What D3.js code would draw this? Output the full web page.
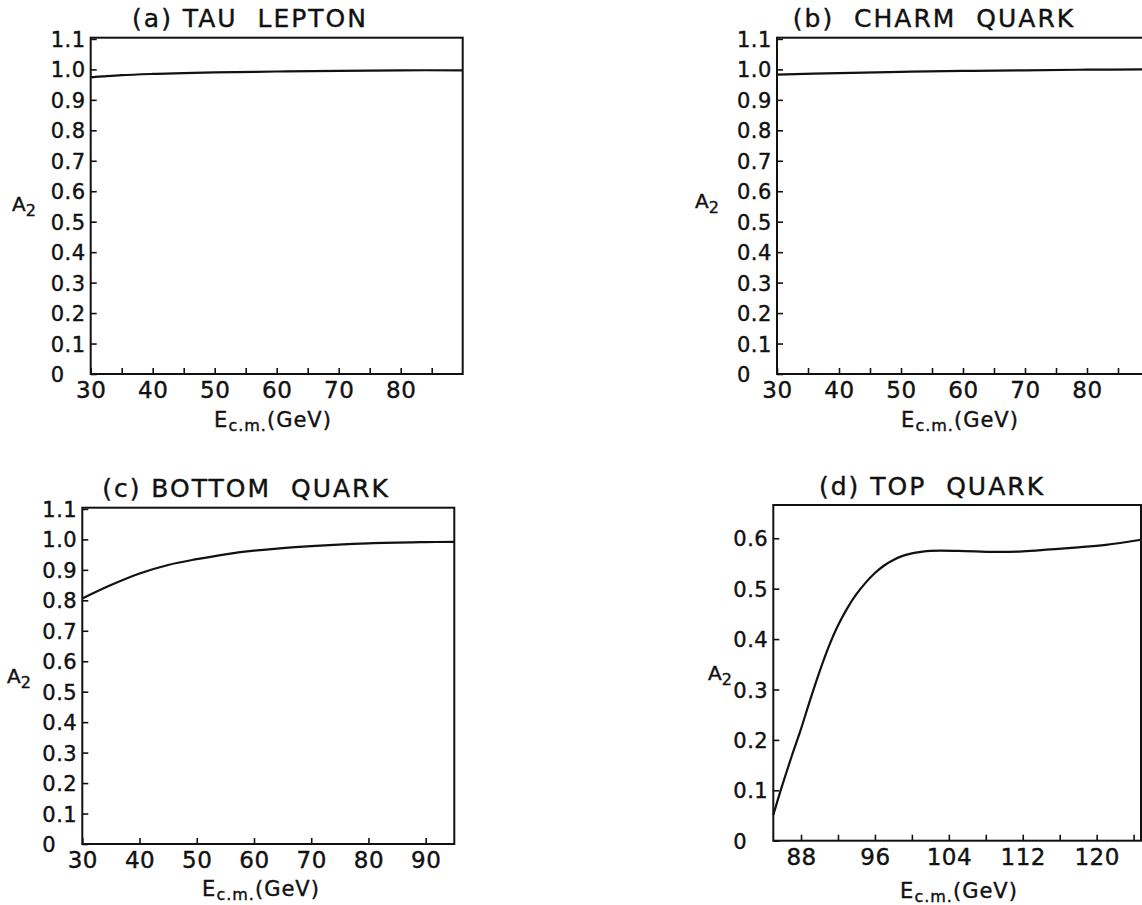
<!DOCTYPE html>
<html>
<head>
<meta charset="utf-8">
<script src="https://cdn.jsdelivr.net/npm/d3@7"></script>
<style>
  body { margin: 0; background: #fff; overflow: hidden; }
  svg { display: block; }
  text { font-family: "DejaVu Sans", sans-serif; fill: #111; stroke: #111; stroke-width: 0.4px; }
</style>
</head>
<body>
<svg width="1142" height="905"></svg>
<script>
// values
var tauE   = [30, 32, 35, 40, 45, 50, 60, 70, 80, 90];
var tauA2  = [0.974, 0.977, 0.981, 0.985, 0.988, 0.990, 0.993, 0.995, 0.997, 0.997];
var charmE  = [30, 40, 50, 60, 70, 80, 90];
var charmA2 = [0.983, 0.988, 0.992, 0.995, 0.997, 0.999, 1.0];
var bottomE  = [30, 35, 40, 45, 50, 55, 60, 70, 80, 90, 95];
var bottomA2 = [0.806, 0.850, 0.888, 0.916, 0.935, 0.951, 0.963, 0.978, 0.987, 0.991, 0.992];
var topE  = [85, 85.7, 87, 88, 89, 90, 91, 92, 93, 94, 95, 96, 97, 98, 99, 100, 101, 102,
             105, 109, 112, 115, 118, 121, 124.8];
var topA2 = [0.051, 0.094, 0.168, 0.222, 0.280, 0.335, 0.385, 0.427, 0.461, 0.489, 0.512, 0.531,
             0.546, 0.557, 0.565, 0.570, 0.573, 0.575, 0.575, 0.573, 0.574, 0.578, 0.582, 0.587, 0.597];

var yTicksFull = [0, 0.1, 0.2, 0.3, 0.4, 0.5, 0.6, 0.7, 0.8, 0.9, 1.0, 1.1];
var yTicksTop  = [0, 0.1, 0.2, 0.3, 0.4, 0.5, 0.6];
var xMajor30 = [30, 40, 50, 60, 70, 80];
var xMinor30 = [35, 45, 55, 65, 75, 85];
var xMajorC  = [30, 40, 50, 60, 70, 80, 90];
var xMajorD  = [88, 96, 104, 112, 120];
var xMinorD  = [92, 100, 108, 116, 124];

var titles = ["(a) TAU  LEPTON", "(b)  CHARM  QUARK", "(c) BOTTOM  QUARK", "(d) TOP  QUARK"];

var svg = d3.select("svg");
svg.append("rect").attr("width", 1142).attr("height", 905).attr("fill", "#fff");

// layout of each panel (pixels)
var panels = [
  {title: titles[0], xs: tauE, ys: tauA2, left: 90.7, right: 462.7, top: 37.7, bottom: 374,
   xDom: [30, 90], yDom: [0, 1.104], yTicks: yTicksFull, xMajor: xMajor30, xMinor: xMinor30,
   titleX: 250, titleY: 27, labX: 273, labY: 427, a2X: 12, a2Y: 211},
  {title: titles[1], xs: charmE, ys: charmA2, left: 777, right: 1149, top: 37.7, bottom: 374,
   xDom: [30, 90], yDom: [0, 1.104], yTicks: yTicksFull, xMajor: xMajor30, xMinor: xMinor30,
   titleX: 934, titleY: 27, labX: 960, labY: 427, a2X: 695, a2Y: 208},
  {title: titles[2], xs: bottomE, ys: bottomA2, left: 82.3, right: 454.3, top: 507.7, bottom: 844,
   xDom: [30, 95], yDom: [0, 1.104], yTicks: yTicksFull, xMajor: xMajorC, xMinor: [],
   titleX: 246, titleY: 497, labX: 261, labY: 896, a2X: 7, a2Y: 683},
  {title: titles[3], xs: topE, ys: topA2, left: 773.3, right: 1141, top: 505, bottom: 840.7,
   xDom: [85, 124.8], yDom: [0, 0.666], yTicks: yTicksTop, xMajor: xMajorD, xMinor: xMinorD,
   titleX: 932, titleY: 495, labX: 959, labY: 898, a2X: 708, a2Y: 680}
];

function yFormat(d) {
  return d === 0 ? "0" : d3.format(".1f")(d);
}

function drawPanel(p) {
  var x = d3.scaleLinear().domain(p.xDom).range([p.left, p.right]);
  var y = d3.scaleLinear().domain(p.yDom).range([p.bottom, p.top]);
  var g = svg.append("g");

  // y axis, ticks pointing in
  var ya = g.append("g")
    .attr("transform", "translate(" + p.left + ",0)")
    .call(d3.axisLeft(y).tickValues(p.yTicks).tickFormat(yFormat)
      .tickSizeInner(-6).tickSizeOuter(0));
  ya.select(".domain").remove();
  ya.selectAll(".tick line").attr("stroke", "#111").attr("stroke-width", 1.6);
  ya.selectAll(".tick text")
    .attr("x", -40).attr("dy", "0.36em")
    .attr("text-anchor", "start")
    .style("font-size", "21px").style("letter-spacing", "0.5px");

  // x axis, labelled ticks
  var xa = g.append("g")
    .attr("transform", "translate(0," + p.bottom + ")")
    .call(d3.axisBottom(x).tickValues(p.xMajor).tickFormat(d3.format("d"))
      .tickSizeInner(-6).tickSizeOuter(0));
  xa.select(".domain").remove();
  xa.selectAll(".tick line").attr("stroke", "#111").attr("stroke-width", 1.6);
  xa.selectAll(".tick text")
    .attr("y", 24).attr("dy", 0)
    .style("font-size", "23px").style("letter-spacing", "0.5px");

  // x axis, unlabelled ticks
  var xm = g.append("g")
    .attr("transform", "translate(0," + p.bottom + ")")
    .call(d3.axisBottom(x).tickValues(p.xMinor).tickFormat("")
      .tickSizeInner(-6).tickSizeOuter(0));
  xm.select(".domain").remove();
  xm.selectAll(".tick line").attr("stroke", "#111").attr("stroke-width", 1.6);

  // frame
  g.append("rect")
    .attr("x", p.left).attr("y", p.top)
    .attr("width", p.right - p.left).attr("height", p.bottom - p.top)
    .attr("fill", "none").attr("stroke", "#111").attr("stroke-width", 2);

  // curve
  var line = d3.line()
    .x(function(d, i) { return x(p.xs[i]); })
    .y(function(d) { return y(d); })
    .curve(d3.curveCatmullRom.alpha(0.5));
  g.append("path")
    .attr("d", line(p.ys))
    .attr("fill", "none").attr("stroke", "#111").attr("stroke-width", 2.2);

  // title
  g.append("text")
    .attr("x", p.titleX).attr("y", p.titleY)
    .attr("text-anchor", "middle")
    .style("white-space", "pre")
    .style("font-size", "25px").style("letter-spacing", "2px")
    .text(p.title);

  // x axis label  E c.m. (GeV)
  var lab = g.append("text")
    .attr("x", p.labX).attr("y", p.labY)
    .attr("text-anchor", "middle")
    .style("font-size", "21px").style("letter-spacing", "1px");
  lab.append("tspan").text("E");
  lab.append("tspan").attr("dy", 4).style("font-size", "16px").text("c.m.");
  lab.append("tspan").attr("dy", -4).text("(GeV)");

  // y axis label A2
  var a2 = g.append("text")
    .attr("x", p.a2X).attr("y", p.a2Y)
    .style("font-size", "20px");
  a2.append("tspan").text("A");
  a2.append("tspan").attr("dy", 5).style("font-size", "16px").text("2");
}

panels.forEach(drawPanel);
</script>
</body>
</html>
